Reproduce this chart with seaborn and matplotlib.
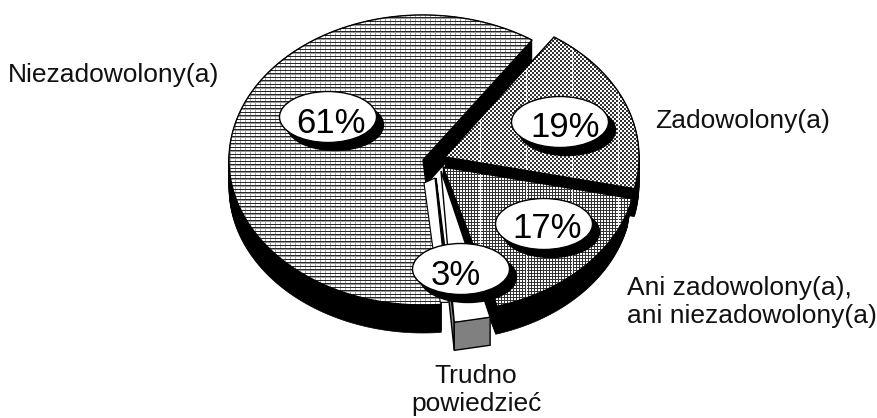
import numpy as np
import matplotlib
matplotlib.use("Agg")
import matplotlib.pyplot as plt
from matplotlib.patches import Polygon, Ellipse
import seaborn as sns

# data
categories = ["Niezadowolony(a)", "Trudno\npowiedzieć", "Ani zadowolony(a),\nani niezadowolony(a)", "Zadowolony(a)"]
shares = [61, 3, 17, 19]
pct_labels = ["61%", "3%", "17%", "19%"]

sns.set_theme(style="white")
plt.rcParams["font.family"] = ["Liberation Sans", "DejaVu Sans"]

W, H = 878, 418
A, B = 194, 145          # pie radii (pixels)
START = 55.8             # start angle, degrees
DEPTH = 28
centers = {0: (423, 160), 1: (436, 178), 2: (443, 167), 3: (445, 157)}
pct_pos = {0: (328, 117), 1: (461, 269), 2: (544, 224), 3: (560, 122)}
pct_text = {0: (331, 133), 1: (456, 285), 2: (547, 238), 3: (565, 137)}
cat_pos = {0: (8, 82, "left"), 1: (476, 411, "center"), 2: (627, 323, "left"), 3: (655, 128, "left")}

fig = plt.figure(figsize=(W / 100, H / 100), dpi=100)
ax = fig.add_axes([0, 0, 1, 1])

yy, xx = np.mgrid[0:H, 0:W]
# textures (0 = black, 1 = white)
tex61 = np.where((yy % 7 == 0) | (yy % 7 == 3) | (yy % 7 == 4), 0.15, 1.0)
tex61 = np.where((xx % 5 == 0) & (tex61 == 1.0), 0.65, tex61)
tex61 = np.where((yy % 7 == 4), 0.6, tex61)
tex19 = np.where(((xx // 2 + yy // 2) % 2) == 0, 0.2, 1.0)
tex19 = np.where(xx % 46 == 20, np.maximum(tex19, 0.9), tex19)
tex17 = np.where((xx % 3 == 0) | (yy % 3 == 0), 0.2, 1.0)
tex17 = np.where(xx % 46 == 20, 0.95, tex17)
textures = {0: tex61, 2: tex17, 3: tex19}


def wedge(i):
    a0 = START + sum(shares[:i]) * 3.6
    a1 = a0 + shares[i] * 3.6
    t = np.radians(np.linspace(a0, a1, 200))
    cx, cy = centers[i]
    xs = cx + A * np.cos(t)
    ys = cy - B * np.sin(t)
    return np.vstack([[cx, cy], np.column_stack([xs, ys])])


def extrude(i, z, taper=0.0):
    poly = wedge(i)
    cx = centers[i][0]
    for d in np.arange(0, DEPTH + 0.5, 1.0):
        shifted = poly + [0, d]
        shifted[:, 0] -= taper * (poly[:, 0] - cx) / A * d / DEPTH
        ax.add_patch(Polygon(shifted, closed=True, fc="black", ec="black", lw=0.5, zorder=z))


def textured(i, z):
    poly = wedge(i)
    patch = Polygon(poly, closed=True, fc="none", ec="black", lw=1.0, zorder=z + 0.1)
    ax.add_patch(patch)
    im = ax.imshow(textures[i], cmap="gray", vmin=0, vmax=1, extent=(0, W, H, 0),
                   interpolation="nearest", aspect="auto", zorder=z)
    im.set_clip_path(patch)


extrude(0, 1)
textured(0, 2)
extrude(3, 3)
textured(3, 4)
extrude(2, 5, taper=5.0)
textured(2, 6)

# small exploded slice
p = wedge(1)
cx, cy = centers[1]
left_end, right_end = p[1].copy(), p[-1].copy()
ax.add_patch(Polygon([(cx - 12, cy + 5), (cx - 1, cy), left_end + [-6, -20], left_end + [-14, -20]],
                     closed=True, fc="white", ec="black", lw=0.8, zorder=7))
ax.add_patch(Polygon([(cx, cy), left_end, left_end + [0, DEPTH], (cx, cy + 2)],
                     closed=True, fc="#808080", ec="black", lw=1.0, zorder=7))
top = p.copy()
top[0] = (cx + 5, cy - 7)
ax.add_patch(Polygon(top, closed=True, fc="white", ec="black", lw=1.0, zorder=8))
ax.add_patch(Polygon([left_end, right_end, right_end + [0, DEPTH], left_end + [0, DEPTH]],
                     closed=True, fc="#808080", ec="black", lw=1.0, zorder=8))

# percentage callouts
for i, lab in enumerate(pct_labels):
    x, y = pct_pos[i]
    ax.add_patch(Ellipse((x + 7, y + 8), 97, 51, fc="black", ec="black", zorder=10))
    ax.add_patch(Ellipse((x, y), 97, 51, fc="white", ec="black", lw=1.0, zorder=11))
    tx, ty = pct_text[i]
    ax.text(tx, ty, lab, fontsize=25, ha="center", va="baseline", color="black", zorder=12)

# category labels
for i, lab in enumerate(categories):
    x, y, ha = cat_pos[i]
    ax.text(x, y, lab, fontsize=19, ha=ha, va="baseline", color="#111111",
            linespacing=1.2, multialignment=ha, zorder=12)

ax.set_xlim(0, W)
ax.set_ylim(H, 0)
ax.axis("off")
sns.despine(ax=ax, left=True, bottom=True)
fig.savefig("out.png", dpi=100, facecolor="white")
